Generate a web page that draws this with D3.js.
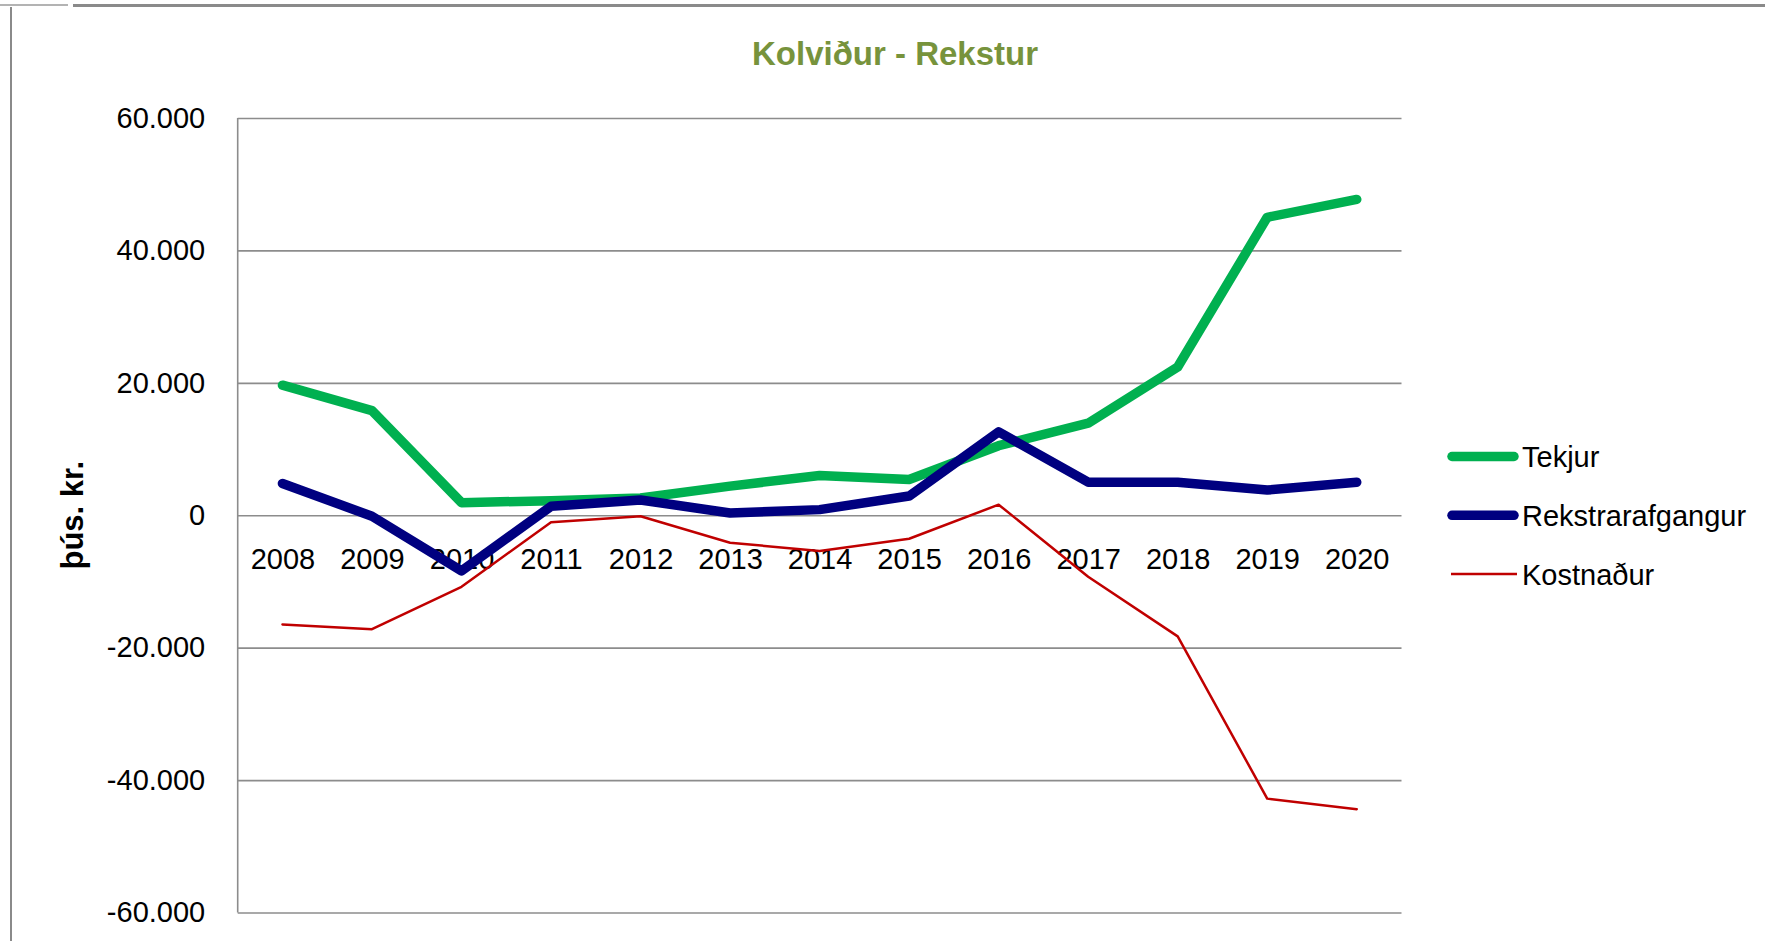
<!DOCTYPE html>
<html lang="is">
<head>
<meta charset="UTF-8">
<title>Kolviður - Rekstur</title>
<script src="https://d3js.org/d3.v7.min.js"></script>
<style>
  body { margin: 0; background: #fff; }
  text { font-family: "Liberation Sans", Arial, sans-serif; }
</style>
</head>
<body>
<script>
// data (þús. kr.)
const years = ["2008", "2009", "2010", "2011", "2012", "2013", "2014", "2015", "2016", "2017", "2018", "2019", "2020"];
const tekjur = [19650, 15800, 1900, 2200, 2600, 4400, 6000, 5400, 10500, 13900, 22400, 45000, 47700];
const rekstrarafgangur = [4800, -150, -8400, 1350, 2300, 350, 850, 2900, 12600, 5000, 5000, 3800, 5000];
const kostnadur = [-16500, -17200, -10800, -1050, -150, -4150, -5400, -3550, 1600, -9300, -18300, -42800, -44400];
const yTicks = [-60000, -40000, -20000, 0, 20000, 40000, 60000];
const seriesNames = ["Tekjur", "Rekstrarafgangur", "Kostnaður"];

var W = 1765, H = 941;
var plot = {left: 237.7, right: 1401.5, top: 118, bottom: 912.5};

var svg = d3.select("body").append("svg")
    .attr("width", W)
    .attr("height", H);

svg.append("rect").attr("width", W).attr("height", H).attr("fill", "#fff");

// frame edges of the chart box (cropped screenshot look)
svg.append("line").attr("x1", 0).attr("x2", 68).attr("y1", 5).attr("y2", 5)
    .attr("stroke", "#9a9a9a").attr("stroke-width", 1.5);
svg.append("line").attr("x1", 73).attr("x2", W).attr("y1", 5.5).attr("y2", 5.5)
    .attr("stroke", "#8a8a8a").attr("stroke-width", 3);
svg.append("line").attr("x1", 11).attr("x2", 11).attr("y1", 7).attr("y2", H)
    .attr("stroke", "#8a8a8a").attr("stroke-width", 2);

// Icelandic number format: 60.000
var locale = d3.formatLocale({decimal: ",", thousands: ".", grouping: [3], currency: ["", ""], minus: "-"});
var fmt = locale.format(",.0f");

var x = d3.scalePoint()
    .domain(years)
    .range([plot.left, plot.right])
    .padding(0.5);

var y = d3.scaleLinear()
    .domain([-60000, 60000])
    .range([plot.bottom, plot.top]);

// y axis with gridlines
var yAxis = svg.append("g")
    .attr("transform", "translate(" + plot.left + ",0)")
    .call(d3.axisLeft(y).tickValues(yTicks).tickFormat(fmt)
        .tickSize(-(plot.right - plot.left)).tickPadding(32.5));
yAxis.select(".domain").remove();
yAxis.selectAll(".tick line").attr("stroke", "#8c8c8c").attr("stroke-width", 1.6);
yAxis.selectAll(".tick text").attr("font-size", 29).attr("fill", "#000")
    .attr("font-family", "Liberation Sans, Arial, sans-serif");

// vertical axis line
svg.append("line")
    .attr("x1", plot.left).attr("x2", plot.left)
    .attr("y1", y(60000)).attr("y2", y(-60000))
    .attr("stroke", "#8c8c8c").attr("stroke-width", 1.6);

// category labels hang just under the zero line
var xAxis = svg.append("g")
    .attr("transform", "translate(0," + y(0) + ")")
    .call(d3.axisBottom(x).tickSize(0).tickPadding(33.5));
xAxis.select(".domain").remove();
xAxis.selectAll(".tick text").attr("font-size", 29).attr("fill", "#000")
    .attr("font-family", "Liberation Sans, Arial, sans-serif");

// series
var series = [
    {name: seriesNames[0], values: tekjur, color: "#00B050", width: 9.5},
    {name: seriesNames[1], values: rekstrarafgangur, color: "#000080", width: 9.5},
    {name: seriesNames[2], values: kostnadur, color: "#C00000", width: 2.5}
];

var line = d3.line()
    .x((d, i) => x(years[i]))
    .y(d => y(d));

svg.append("g").selectAll("path")
    .data(series)
    .enter()
    .append("path")
    .attr("d", d => line(d.values))
    .attr("fill", "none")
    .attr("stroke", d => d.color)
    .attr("stroke-width", d => d.width)
    .attr("stroke-linejoin", "round")
    .attr("stroke-linecap", "round");

// title
svg.append("text")
    .attr("x", 895)
    .attr("y", 65)
    .attr("text-anchor", "middle")
    .attr("font-size", 33)
    .attr("font-weight", "bold")
    .attr("fill", "#77933C")
    .text("Kolviður - Rekstur");

// y axis title
svg.append("text")
    .attr("transform", "translate(83," + y(0) + ") rotate(-90)")
    .attr("text-anchor", "middle")
    .attr("font-size", 31)
    .attr("font-weight", "bold")
    .attr("fill", "#000")
    .text("þús. kr.");

// legend
var legend = svg.append("g");
series.forEach(function(s, i) {
    var ly = 456.5 + i * 58.8;
    legend.append("line")
        .attr("x1", s.width > 3 ? 1452 : 1451).attr("x2", s.width > 3 ? 1514 : 1517)
        .attr("y1", ly).attr("y2", ly)
        .attr("stroke", s.color)
        .attr("stroke-width", s.width)
        .attr("stroke-linecap", s.width > 3 ? "round" : "butt");
    legend.append("text")
        .attr("x", 1522)
        .attr("y", ly)
        .attr("dy", "0.36em")
        .attr("font-size", 29)
        .attr("fill", "#000")
        .text(s.name);
});
</script>
</body>
</html>
